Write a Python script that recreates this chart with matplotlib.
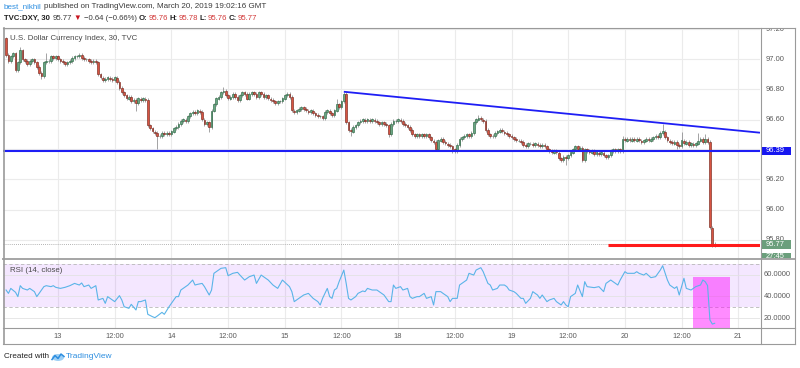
import matplotlib
matplotlib.use("Agg")
import matplotlib.pyplot as plt
from matplotlib.patches import Rectangle, Ellipse
from matplotlib.transforms import Bbox
import numpy as np

plt.rcParams['font.family'] = ['Liberation Sans', 'DejaVu Sans']
HEAD_FAM = ['Liberation Sans', 'DejaVu Sans']
HEAD_SIZE = 5.75

# --- data (30 min DXY bars) ---
first_open = 97.14
closes = [
    97.03, 96.99, 97.02, 97.04, 96.93, 96.98, 97.06, 97.00, 96.99, 96.97,
    96.99, 97.00, 96.98, 96.95, 96.91, 96.89, 96.98, 96.99, 96.99, 97.02,
    97.01, 97.02, 97.00, 96.99, 96.98, 96.97, 96.98, 96.99, 97.01, 97.02,
    97.02, 97.03, 97.01, 97.00, 97.00, 96.99, 96.98, 96.99, 96.98, 96.90,
    96.88, 96.86, 96.87, 96.88, 96.87, 96.86, 96.88, 96.85, 96.81, 96.78,
    96.76, 96.74, 96.75, 96.72, 96.73, 96.71, 96.74, 96.73, 96.74, 96.73,
    96.56, 96.54, 96.52, 96.51, 96.49, 96.49, 96.51, 96.50, 96.51, 96.50,
    96.52, 96.54, 96.55, 96.57, 96.59, 96.60, 96.59, 96.62, 96.64, 96.65,
    96.64, 96.66, 96.65, 96.60, 96.57, 96.58, 96.55, 96.66, 96.70, 96.74,
    96.75, 96.78, 96.79, 96.76, 96.74, 96.75, 96.77, 96.75, 96.73, 96.76,
    96.78, 96.77, 96.74, 96.77, 96.78, 96.77, 96.75, 96.78, 96.77, 96.75,
    96.76, 96.74, 96.73, 96.72, 96.71, 96.72, 96.72, 96.74, 96.76, 96.77,
    96.75, 96.66, 96.65, 96.66, 96.67, 96.68, 96.67, 96.66, 96.65, 96.66,
    96.64, 96.63, 96.62, 96.62, 96.61, 96.65, 96.66, 96.64, 96.63, 96.66,
    96.70, 96.68, 96.72, 96.77, 96.58, 96.53, 96.52, 96.55, 96.56, 96.58,
    96.59, 96.60, 96.59, 96.60, 96.59, 96.60, 96.59, 96.58, 96.57, 96.58,
    96.57, 96.56, 96.50, 96.57, 96.59, 96.59, 96.60, 96.59, 96.57, 96.56,
    96.55, 96.53, 96.50, 96.49, 96.50, 96.49, 96.50, 96.49, 96.50, 96.48,
    96.46, 96.45, 96.40, 96.46, 96.47, 96.45, 96.44, 96.43, 96.42, 96.40,
    96.39, 96.43, 96.47, 96.48, 96.49, 96.50, 96.49, 96.51, 96.58, 96.60,
    96.61, 96.60, 96.59, 96.53, 96.50, 96.49, 96.49, 96.51, 96.52, 96.53,
    96.52, 96.51, 96.50, 96.49, 96.48, 96.47, 96.46, 96.46, 96.45, 96.43,
    96.42, 96.44, 96.44, 96.43, 96.44, 96.43, 96.42, 96.43, 96.42, 96.40,
    96.39, 96.38, 96.39, 96.38, 96.34, 96.33, 96.35, 96.34, 96.36, 96.38,
    96.40, 96.42, 96.40, 96.41, 96.33, 96.40, 96.39, 96.38, 96.39, 96.37,
    96.38, 96.37, 96.38, 96.36, 96.35, 96.36, 96.39, 96.40, 96.39, 96.40,
    96.39, 96.47, 96.46, 96.47, 96.46, 96.47, 96.46, 96.47, 96.46, 96.45,
    96.46, 96.47, 96.46, 96.47, 96.48, 96.49, 96.48, 96.51, 96.52, 96.48,
    96.46, 96.45, 96.44, 96.45, 96.43, 96.42, 96.46, 96.44, 96.45, 96.43,
    96.44, 96.43, 96.44, 96.46, 96.47, 96.45, 96.47, 96.45, 95.88, 95.76,
    95.77,
]
# wicks that stick out noticeably (bar index -> price)
highs = {0: 97.15, 6: 97.08, 17: 97.04, 92: 96.82, 140: 96.74, 143: 96.785,
         200: 96.63, 261: 96.49, 278: 96.57, 286: 96.52, 293: 96.51, 296: 96.50}
lows = {15: 96.87, 55: 96.66, 64: 96.40, 86: 96.52, 146: 96.49, 162: 96.48,
        182: 96.39, 189: 96.38, 237: 96.30, 244: 96.32, 284: 96.40, 299: 95.75}

rsi_bar = [0, 1, 2, 4, 5, 6, 7, 9, 10, 12, 13, 14, 16, 17, 19, 20, 21, 23, 25, 27,
           29, 31, 32, 33, 35, 36, 38, 39, 41, 42, 43, 45, 46, 48, 49, 50, 52, 53, 55, 56,
           57, 59, 60, 62, 63, 64, 66, 67, 69, 70, 72, 73, 74, 76, 77, 79, 80, 81, 83, 84,
           86, 87, 88, 91, 93, 94, 96, 98, 99, 101, 102, 103, 105, 106, 108, 109, 111, 113, 115, 117,
           120, 121, 122, 124, 126, 128, 130, 132, 133, 134, 136, 137, 138, 139, 140, 141, 143, 144, 145, 146,
           148, 149, 151, 152, 153, 155, 157, 159, 160, 162, 163, 164, 165, 167, 168, 170, 171, 172, 174, 175,
           177, 178, 180, 181, 182, 184, 185, 187, 188, 189, 191, 192, 194, 195, 196, 198, 199, 201, 202, 204,
           205, 206, 208, 209, 211, 212, 213, 215, 216, 218, 219, 220, 222, 223, 225, 226, 227, 229, 230, 232,
           233, 235, 236, 237, 238, 239, 241, 242, 244, 245, 246, 249, 251, 253, 254, 256, 257, 259, 260, 262,
           263, 266, 267, 268, 270, 271, 273, 275, 276, 277, 278, 280, 281, 283, 284, 285, 287, 288, 290, 291,
           292, 294, 295, 296, 297, 298, 299, 300]
rsi_val = [45.9, 42.8, 47.4, 43.8, 39.8, 49.9, 47.4, 45.9, 47.4, 44.4, 39.8, 42.8, 49.0, 49.9, 49.0, 49.9, 48.4, 47.4, 48.4, 49.9,
           52.0, 50.5, 52.4, 49.0, 50.5, 47.4, 49.9, 36.7, 38.2, 33.6, 39.8, 36.7, 35.2, 40.7, 36.7, 30.5, 29.0, 32.7, 27.5, 35.2,
           35.2, 36.7, 23.5, 21.3, 20.4, 21.9, 25.3, 23.5, 30.5, 33.6, 39.8, 39.8, 45.9, 49.0, 50.5, 55.1, 50.5, 51.1, 52.0, 49.0,
           41.3, 45.9, 61.3, 65.9, 66.5, 59.1, 61.3, 62.2, 59.7, 55.1, 56.7, 58.2, 59.7, 52.0, 59.7, 58.2, 55.1, 50.5, 47.4, 55.1,
           49.0, 44.4, 35.2, 38.2, 41.3, 42.8, 38.2, 35.2, 32.1, 38.2, 47.4, 39.8, 38.2, 45.9, 47.4, 53.6, 64.3, 52.0, 38.2, 36.7,
           39.8, 42.8, 45.0, 44.4, 47.4, 45.9, 45.9, 42.8, 41.3, 35.2, 35.2, 50.5, 47.4, 49.0, 45.9, 47.4, 39.8, 38.2, 39.8, 39.8,
           42.8, 38.2, 39.8, 32.1, 44.4, 44.4, 42.8, 39.8, 35.2, 38.2, 38.2, 50.5, 53.6, 55.1, 61.3, 59.7, 64.3, 66.5, 62.8, 52.0,
           50.5, 45.9, 47.4, 50.5, 50.5, 49.0, 45.9, 44.4, 42.8, 38.2, 38.2, 33.6, 38.2, 44.4, 41.3, 38.2, 41.3, 35.2, 36.7, 38.2,
           35.2, 32.1, 35.2, 32.1, 30.5, 39.8, 42.8, 50.5, 39.8, 53.6, 49.0, 48.1, 49.0, 44.4, 52.0, 55.1, 53.6, 50.5, 55.1, 62.8,
           61.3, 61.3, 62.8, 61.3, 59.7, 61.3, 57.3, 58.2, 61.3, 64.3, 68.3, 55.1, 50.5, 47.4, 49.0, 41.3, 56.7, 47.4, 45.9, 47.4,
           49.0, 50.5, 55.1, 53.6, 50.0, 18.3, 14.5, 15.2]

tick_bar = [22, 46, 70, 94, 118, 142, 166, 190, 214, 238, 262, 286, 310]
tick_lab = ['13', '12:00', '14', '12:00', '15', '12:00', '18', '12:00', '19', '12:00', '20', '12:00', '21']
price_ticks = [97.20, 97.00, 96.80, 96.60, 96.20, 96.00, 95.80]
rsi_ticks = [60, 40, 20]

support = 96.39
trend_bar = [143, 319.2]
trend_px = [96.785, 96.512]
target_start = 255
target_px = 95.765
last_price = 95.77
rsi_box = (291, 306.5, 58)   # from bar, to bar, top value

# --- figure ---
W, H = 800, 368
fig = plt.figure(figsize=(W / 100, H / 100), dpi=100)
fig.patch.set_facecolor('white')

def fx(px):
    return px / W

def fy(py):
    return 1 - py / H

XL = (-1.3, 319.2)
ax = fig.add_axes([fx(3), fy(259), 757 / W, 231 / H])
ax_r = fig.add_axes([fx(3), fy(327.7), 757 / W, 68.7 / H])
ps = fig.add_axes([fx(760), fy(259), 35 / W, 231 / H])
rs = fig.add_axes([fx(760), fy(327.7), 35 / W, 68.7 / H])

for a in (ax, ax_r, ps, rs):
    a.set_xlim(XL)
    a.set_xticks([])
    a.set_yticks([])
    for s in a.spines.values():
        s.set_visible(False)
ax.set_ylim(95.67, 97.21)
ps.set_ylim(95.67, 97.21)
ax_r.set_ylim(11.15, 74.5)
rs.set_ylim(11.15, 74.5)
ps.set_xlim(0, 1)
rs.set_xlim(0, 1)

grid = '#ebebeb'
for b in tick_bar:
    ax.axvline(b, color=grid, lw=0.8, zorder=0)
    ax_r.axvline(b, color=grid, lw=0.8, zorder=0)
for p in [97.2, 97.0, 96.8, 96.6, 96.4, 96.2, 96.0, 95.8]:
    ax.axhline(p, color=grid, lw=0.8, zorder=0)

# candles
c = np.array(closes)
o = np.array([first_open] + closes[:-1])
x = np.arange(len(c))
WICK = 0.012
hi = np.maximum(o, c) + WICK
lo = np.minimum(o, c) - WICK
for k, v in highs.items():
    hi[k] = v
for k, v in lows.items():
    lo[k] = v
up = c >= o
ax.vlines(x, lo, hi, color='#8a8a8c', lw=0.55, zorder=2)
ax.bar(x, c - o, bottom=o, width=0.72,
       color=np.where(up, '#6ba583', '#d75442'),
       edgecolor=np.where(up, '#2f6b47', '#7a2a20'), linewidth=0.45, zorder=3)

# drawings
ax.axhline(support, color='#1e1ef5', lw=1.5, zorder=4)
ax.plot(trend_bar, trend_px, color='#1e1ef5', lw=1.3, zorder=4, solid_capstyle='butt')
ax.plot([target_start, XL[1]], [target_px, target_px], color='#ff1a1a', lw=2.2, zorder=4,
        solid_capstyle='butt')
ax.axhline(last_price, color='#9a9a9a', lw=0.6, ls=(0, (1, 1.5)), zorder=1)

ax.text(7 / 757, 1 - 11 / 231, 'U.S. Dollar Currency Index, 30, TVC', transform=ax.transAxes,
        family=HEAD_FAM, fontsize=HEAD_SIZE - 0.1, color='#4a4a4a', va='center', ha='left')

# price scale
LBL = 5.4
for p in price_ticks:
    t = ps.text(0.15, p, '%.2f' % p, fontsize=LBL, color='#5a5a5a', va='center', ha='left')
    if p == 95.80:
        # the last-price tag hides most of this one
        t.set_clip_box(Bbox([[fx(760) * W, fy(241) * H], [fx(795) * W, fy(228) * H]]))
    else:
        t.set_clip_on(True)

def tag(axis, y, txt, fc, y0, y1):
    axis.add_patch(Rectangle((0.02, y0), 0.86, y1 - y0, facecolor=fc, edgecolor='none', zorder=5))
    axis.text(0.15, y, txt, fontsize=LBL, color='white', va='center', ha='left', zorder=6)

tag(ps, support, '%.2f' % support, '#1616f0', support - 0.025, support + 0.025)
tag(ps, last_price, '%.2f' % last_price, '#6b9f7c', last_price - 0.031, last_price + 0.030)
ps.add_patch(Rectangle((0.06, 95.66), 0.82, 0.053, facecolor='#6b9f7c', edgecolor='none', zorder=5))
ps.text(0.15, 95.685, '27:45', fontsize=LBL, color='white', va='center', ha='left', zorder=6,
        clip_on=True)

# RSI pane
ax_r.axhspan(30, 70, color='#9915ff', alpha=0.1, lw=0, zorder=0)
for v in rsi_ticks:
    ax_r.axhline(v, color='#e3e3e3', lw=0.6, zorder=0)
for v in (70, 30):
    ax_r.axhline(v, color='#b8b8b8', lw=0.6, ls=(0, (4, 3)), zorder=1)
ax_r.add_patch(Rectangle((rsi_box[0], 11.15), rsi_box[1] - rsi_box[0], rsi_box[2] - 11.15,
                         facecolor='#ff00ff', alpha=0.45, edgecolor='none', zorder=2))
ax_r.plot(rsi_bar, rsi_val, color='#5ab4e8', lw=0.8, zorder=3)
ax_r.text(7 / 757, 1 - 11 / 68.7, 'RSI (14, close)', transform=ax_r.transAxes,
          family=HEAD_FAM, fontsize=HEAD_SIZE - 0.1, color='#4a4a4a', va='center', ha='left')
for v in rsi_ticks:
    rs.text(0.1, v, '%.4f' % v, fontsize=LBL, color='#5a5a5a', va='center', ha='left')

# time labels
for b, lab in zip(tick_bar, tick_lab):
    fig.text(fx(6.07 + 2.362 * b), fy(337), lab, fontsize=LBL, color='#5a5a5a', ha='center', va='center')

# frame lines
line = '#9a9a9a'
def hline(y, x0, x1, lw=0.8, col=line):
    fig.add_artist(plt.Line2D([fx(x0), fx(x1)], [fy(y), fy(y)], color=col, lw=lw))
def vline(xp, y0, y1, lw=0.8, col=line):
    fig.add_artist(plt.Line2D([fx(xp), fx(xp)], [fy(y0), fy(y1)], color=col, lw=lw))

hline(28, 3, 795)
hline(259.3, 3, 795, lw=1.4, col='#a5a5a5')
hline(327.7, 3, 795)
hline(344.3, 3, 795)
vline(3.5, 28, 344.3, lw=1.2)
vline(760.5, 28, 344.3)
vline(795.3, 28, 344.3)

# header
r = fig.canvas.get_renderer()
def run(xp, yp, parts, size):
    for s, col, wt, gap in parts:
        t = fig.text(fx(xp), fy(yp), s, family=HEAD_FAM, fontsize=size, color=col, fontweight=wt,
                     va='center', ha='left')
        xp += t.get_window_extent(renderer=r).width + gap
    return xp

dark = '#3a3a3a'
red = '#d23a3a'
run(4, 7, [('best_nikhil', '#2d8ee0', 'normal', 2),
           ('published on TradingView.com, March 20, 2019 19:02:16 GMT', dark, 'normal', 0)], HEAD_SIZE)
run(4, 18, [('TVC:DXY, 30', '#222222', 'bold', 2.5), ('95.77', dark, 'normal', 2),
            ('\u25bc', '#c8141e', 'normal', 2), ('\u22120.64 (\u22120.66%)', dark, 'normal', 2.5),
            ('O:', '#222222', 'bold', 0.5), ('95.76', red, 'normal', 2),
            ('H:', '#222222', 'bold', 0.5), ('95.78', red, 'normal', 2),
            ('L:', '#222222', 'bold', 0.5), ('95.76', red, 'normal', 2),
            ('C:', '#222222', 'bold', 0.5), ('95.77', red, 'normal', 0)], HEAD_SIZE - 0.15)

# footer
xe = run(4, 357, [('Created with', '#222222', 'normal', 0)], HEAD_SIZE)
lx = xe + 3
fig.add_artist(Ellipse((fx(lx + 6), fy(357.5)), 12 / W, 7 / H, facecolor='#9fd0f5', edgecolor='none'))
fig.add_artist(plt.Line2D([fx(lx), fx(lx + 3), fx(lx + 6), fx(lx + 9), fx(lx + 12)],
                          [fy(359.5), fy(355.5), fy(358.5), fy(354), fy(356.5)], color='#2d8ee0', lw=1.1))
fig.text(fx(lx + 13.5), fy(357), 'TradingView', family=HEAD_FAM, fontsize=HEAD_SIZE + 0.3,
         color='#2d8ee0', va='center', ha='left')

fig.savefig('out.png', dpi=100)
